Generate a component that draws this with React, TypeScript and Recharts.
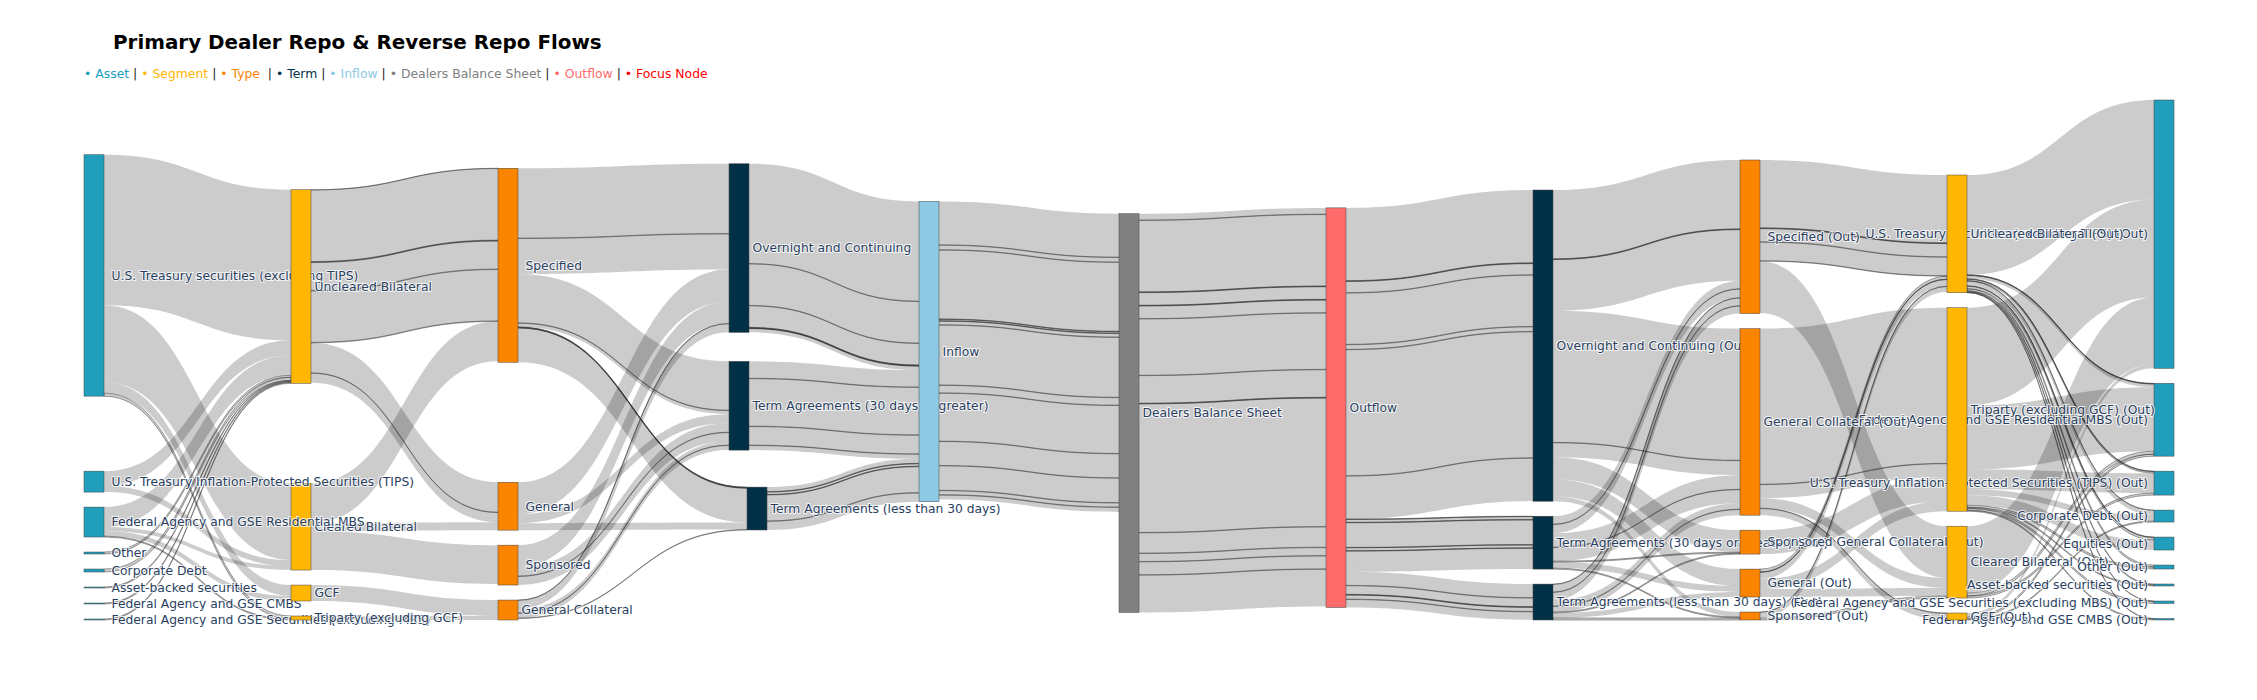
import { Layer, Sankey } from "recharts"

type Flow = [string, string, number]

const nodeNames = [
  "U.S. Treasury securities (excluding TIPS)",
  "Uncleared Bilateral",
  "Cleared Bilateral",
  "U.S. Treasury Inflation-Protected Securities (TIPS)",
  "Federal Agency and GSE Residential MBS",
  "Other",
  "Corporate Debt",
  "Asset-backed securities",
  "Federal Agency and GSE CMBS",
  "Federal Agency and GSE Securities (excluding MBS)",
  "GCF",
  "Triparty (excluding GCF)",
  "Specified",
  "General",
  "Sponsored",
  "General Collateral",
  "Overnight and Continuing",
  "Term Agreements (30 days or greater)",
  "Term Agreements (less than 30 days)",
  "Inflow",
  "Dealers Balance Sheet",
  "Outflow",
  "U.S. Treasury securities (excluding TIPS) (Out)",
  "Federal Agency and GSE Residential MBS (Out)",
  "U.S. Treasury Inflation-Protected Securities (TIPS) (Out)",
  "Overnight and Continuing (Out)",
  "Specified (Out)",
  "General Collateral (Out)",
  "Term Agreements (30 days or greater) (Out)",
  "Sponsored General Collateral (Out)",
  "Term Agreements (less than 30 days) (Out)",
  "General (Out)",
  "Sponsored (Out)",
  "Uncleared Bilateral (Out)",
  "Triparty (excluding GCF) (Out)",
  "Cleared Bilateral (Out)",
  "Corporate Debt (Out)",
  "Equities (Out)",
  "Other (Out)",
  "Asset-backed securities (Out)",
  "Federal Agency and GSE Securities (excluding MBS) (Out)",
  "Federal Agency and GSE CMBS (Out)",
  "GCF (Out)",
]

const T = nodeNames[0], TIPS = nodeNames[3], MBS = nodeNames[4]
const UB = "Uncleared Bilateral", CB = "Cleared Bilateral", GCF = "GCF", TRI = "Triparty (excluding GCF)"
const SPEC = "Specified", GEN = "General", SPON = "Sponsored", GC = "General Collateral"
const ON = "Overnight and Continuing", T30 = "Term Agreements (30 days or greater)", TL = "Term Agreements (less than 30 days)"
const INF = "Inflow", DBS = "Dealers Balance Sheet", OUT = "Outflow"
const ON2 = ON + " (Out)", T302 = T30 + " (Out)", TL2 = TL + " (Out)"
const SPEC2 = "Specified (Out)", GC2 = "General Collateral (Out)", SGC2 = "Sponsored General Collateral (Out)", GEN2 = "General (Out)", SPON2 = "Sponsored (Out)"
const UB2 = UB + " (Out)", TRI2 = TRI + " (Out)", CB2 = CB + " (Out)", GCF2 = "GCF (Out)"
const T2 = T + " (Out)", MBS2 = MBS + " (Out)", TIPS2 = TIPS + " (Out)"

const assetToSegment: Flow[] = [
  [T, UB, 151], [T, CB, 77], [T, GCF, 11], [T, TRI, 3],
  [TIPS, UB, 15], [TIPS, CB, 6],
  [MBS, UB, 20], [MBS, CB, 4], [MBS, GCF, 5], [MBS, TRI, 1],
  ["Other", UB, 2], ["Corporate Debt", UB, 3], ["Asset-backed securities", UB, 1],
  ["Federal Agency and GSE CMBS", UB, 1], ["Federal Agency and GSE Securities (excluding MBS)", UB, 1],
]

const segmentToType: Flow[] = [
  [UB, SPEC, 0.3], [UB, SPEC, 71.7], [UB, SPEC, 0.5], [UB, SPEC, 0.5], [UB, SPEC, 28], [UB, SPEC, 0.5], [UB, SPEC, 51.5], [UB, SPEC, 0.5],
  [UB, GEN, 30], [UB, GEN, 0.4], [UB, GEN, 9.6],
  [CB, SPEC, 40], [CB, GEN, 8], [CB, SPON, 39],
  [GCF, GC, 16], [TRI, GC, 4],
]

const typeToTerm: Flow[] = [
  [SPEC, ON, 70], [SPEC, ON, 0.4], [SPEC, ON, 35.6], [SPEC, T30, 49], [SPEC, T30, 0.4], [SPEC, T30, 3.6],
  [SPEC, TL, 0.4], [SPEC, TL, 0.4], [SPEC, TL, 0.4], [SPEC, TL, 34.3],
  [GEN, ON, 32], [GEN, T30, 9], [GEN, TL, 7],
  [SPON, ON, 22], [SPON, T30, 9], [SPON, T30, 0.4], [SPON, T30, 8.6],
  [GC, ON, 0.4], [GC, ON, 8.6], [GC, T30, 4], [GC, T30, 0.3], [GC, T30, 4.7], [GC, TL, 0.5],
]

const termToInflow: Flow[] = [
  [ON, INF, 100], [ON, INF, 0.4], [ON, INF, 41.6], [ON, INF, 0.4], [ON, INF, 21.6],
  [ON, INF, 0.4], [ON, INF, 0.4], [ON, INF, 0.4], [ON, INF, 3.8],
  [T30, INF, 17], [T30, INF, 0.4], [T30, INF, 47.6], [T30, INF, 0.4], [T30, INF, 18.6], [T30, INF, 0.4], [T30, INF, 4.6],
  [TL, INF, 4.5], [TL, INF, 0.4], [TL, INF, 2.6], [TL, INF, 0.4], [TL, INF, 26], [TL, INF, 0.4], [TL, INF, 8.7],
]

const inflowToDealers: Flow[] = [
  [INF, DBS, 43.5], [INF, DBS, 0.4], [INF, DBS, 4.5], [INF, DBS, 0.4], [INF, DBS, 69], [INF, DBS, 0.4],
  [INF, DBS, 1.5], [INF, DBS, 0.4], [INF, DBS, 3.5], [INF, DBS, 0.4], [INF, DBS, 60], [INF, DBS, 0.4],
  [INF, DBS, 7.5], [INF, DBS, 0.4], [INF, DBS, 48], [INF, DBS, 0.4], [INF, DBS, 24], [INF, DBS, 0.4],
  [INF, DBS, 24.5], [INF, DBS, 0.4], [INF, DBS, 4], [INF, DBS, 0.4], [INF, DBS, 4.5],
]

const dealersToOutflow: Flow[] = [
  [DBS, OUT, 6.3], [DBS, OUT, 0.4], [DBS, OUT, 71.6], [DBS, OUT, 0.4], [DBS, OUT, 0.4], [DBS, OUT, 12.6],
  [DBS, OUT, 0.4], [DBS, OUT, 0.4], [DBS, OUT, 12.6], [DBS, OUT, 0.4], [DBS, OUT, 56.4], [DBS, OUT, 0.4],
  [DBS, OUT, 27.6], [DBS, OUT, 0.4], [DBS, OUT, 0.4], [DBS, OUT, 128.8], [DBS, OUT, 0.4], [DBS, OUT, 20.3],
  [DBS, OUT, 0.4], [DBS, OUT, 8], [DBS, OUT, 0.4], [DBS, OUT, 12.9], [DBS, OUT, 0.4], [DBS, OUT, 37.4],
]

const outflowToTerm: Flow[] = [
  [OUT, ON2, 73], [OUT, ON2, 0.4], [OUT, ON2, 0.4], [OUT, ON2, 11.2], [OUT, ON2, 0.4], [OUT, ON2, 51.4], [OUT, ON2, 0.4],
  [OUT, ON2, 4.6], [OUT, ON2, 0.4], [OUT, ON2, 126.3], [OUT, ON2, 0.4], [OUT, ON2, 43],
  [OUT, T302, 0.4], [OUT, T302, 3], [OUT, T302, 0.4], [OUT, T302, 24.6], [OUT, T302, 0.4], [OUT, T302, 3], [OUT, T302, 0.4], [OUT, T302, 11.3], [OUT, T302, 9.4],
  [OUT, TL2, 13.6], [OUT, TL2, 0.4], [OUT, TL2, 8.6], [OUT, TL2, 0.4], [OUT, TL2, 0.4], [OUT, TL2, 4], [OUT, TL2, 0.4], [OUT, TL2, 8],
]

const termToType: Flow[] = [
  [ON2, SPEC2, 69], [ON2, SPEC2, 0.4], [ON2, SPEC2, 0.4], [ON2, SPEC2, 51.2], [ON2, GC2, 132], [ON2, GC2, 0.4], [ON2, GC2, 14.6],
  [ON2, SGC2, 22], [ON2, GEN2, 17], [ON2, SPON2, 5],
  [T302, SPEC2, 8], [T302, SPEC2, 0.4], [T302, SPEC2, 8.6], [T302, GC2, 14], [T302, GC2, 0.4], [T302, GC2, 13.6], [T302, SGC2, 1], [T302, GEN2, 6], [T302, SPON2, 1],
  [TL2, SPEC2, 0.4], [TL2, SPEC2, 7.6], [TL2, SPEC2, 0.4], [TL2, SPEC2, 7.6], [TL2, GC2, 6], [TL2, GC2, 0.4], [TL2, GC2, 5.6], [TL2, SGC2, 1], [TL2, GEN2, 5], [TL2, SPON2, 2],
]

const typeToSegment: Flow[] = [
  [SPEC2, UB2, 68], [SPEC2, UB2, 0.4], [SPEC2, UB2, 0.4], [SPEC2, UB2, 13.2], [SPEC2, UB2, 0.4], [SPEC2, UB2, 18.6], [SPEC2, UB2, 0.4], [SPEC2, CB2, 52],
  [GC2, TRI2, 156], [GC2, TRI2, 0.4], [GC2, TRI2, 13.6], [GC2, CB2, 10], [GC2, GCF2, 0.4], [GC2, GCF2, 6.6],
  [SGC2, TRI2, 24], [GEN2, UB2, 3], [GEN2, UB2, 0.4], [GEN2, UB2, 6.6], [GEN2, TRI2, 10], [GEN2, CB2, 8],
  [SPON2, UB2, 0.4], [SPON2, UB2, 5.6], [SPON2, CB2, 2],
]

const segmentToAsset: Flow[] = [
  [UB2, T2, 100], [UB2, MBS2, 0.4], [UB2, MBS2, 0.4], [UB2, MBS2, 3.2], [UB2, TIPS2, 0.4], [UB2, TIPS2, 1.6], [UB2, "Corporate Debt (Out)", 0.4], [UB2, "Corporate Debt (Out)", 4.6],
  [UB2, "Equities (Out)", 0.4], [UB2, "Equities (Out)", 2.6], [UB2, "Other (Out)", 2], [UB2, "Asset-backed securities (Out)", 1], [UB2, "Federal Agency and GSE Securities (excluding MBS) (Out)", 0.5], [UB2, "Federal Agency and GSE CMBS (Out)", 0.5],
  [TRI2, T2, 98], [TRI2, MBS2, 64], [TRI2, TIPS2, 20], [TRI2, "Corporate Debt (Out)", 6], [TRI2, "Equities (Out)", 10],
  [TRI2, "Other (Out)", 2], [TRI2, "Asset-backed securities (Out)", 1], [TRI2, "Federal Agency and GSE Securities (excluding MBS) (Out)", 2], [TRI2, "Federal Agency and GSE CMBS (Out)", 1],
  [CB2, T2, 67], [CB2, MBS2, 3], [CB2, TIPS2, 2],
  [GCF2, T2, 4], [GCF2, MBS2, 2], [GCF2, "Corporate Debt (Out)", 1],
]

const legendItems = [
  ["Asset", "#219ebc"],
  ["Segment", "#ffb703"],
  ["Type ", "#fb8500"],
  ["Term", "#023047"],
  ["Inflow", "#8ecae6"],
  ["Dealers Balance Sheet", "#808080"],
  ["Outflow", "#ff6b6b"],
  ["Focus Node", "#ff0000"],
]

const allFlows = [
  ...assetToSegment, ...segmentToType, ...typeToTerm, ...termToInflow, ...inflowToDealers,
  ...dealersToOutflow, ...outflowToTerm, ...termToType, ...typeToSegment, ...segmentToAsset,
]

const chartData = {
  nodes: nodeNames.map((name) => ({ name })),
  links: allFlows.map(([s, t, value]) => ({ source: nodeNames.indexOf(s), target: nodeNames.indexOf(t), value })),
}

const depthColors = ["#219ebc", "#ffb703", "#fb8500", "#023047", "#8ecae6", "#808080", "#ff6b6b", "#023047", "#fb8500", "#ffb703", "#219ebc"]

// the reference has some nodes dragged off the spot the layout gives them
const columnNudge: Record<number, number> = { 3: 24, 4: 7 }
const dragged: Record<string, number> = {
  [T]: -60,
  [UB]: -85,
  [SPEC]: -105,
  [ON]: -126,
  [T30]: -112,
  [TL]: -90,
  [INF]: -53,
  [DBS]: 17,
  [OUT]: 20,
}
const wideLabelGap = new Set([SPEC, GEN, SPON, SPEC2, GEN2, SPON2, SGC2])
const nudgeX = (node: any) => (node?.name === TL ? 42 : columnNudge[node?.depth] ?? 0)
const nudgeY = (node: any) => dragged[node?.name] ?? 0

function FlowLink(props: any) {
  const { sourceX, targetX, sourceY, targetY, sourceControlX, targetControlX, linkWidth, payload } = props
  const sx = sourceX + nudgeX(payload?.source)
  const tx = targetX + nudgeX(payload?.target)
  const mid = (nudgeX(payload?.source) + nudgeX(payload?.target)) / 2
  const cs = sourceControlX + mid
  const ct = targetControlX + mid
  const sy = sourceY + nudgeY(payload?.source)
  const ty = targetY + nudgeY(payload?.target)
  const h = linkWidth / 2
  const d = `M${sx},${sy - h}C${cs},${sy - h} ${ct},${ty - h} ${tx},${ty - h}L${tx},${ty + h}C${ct},${ty + h} ${cs},${sy + h} ${sx},${sy + h}Z`
  const thin = payload?.value <= 3
  return <path d={d} fill="rgba(0,0,0,0.2)" stroke={thin ? "rgba(50,50,50,0.75)" : "none"} strokeWidth={thin ? 0.6 : 0} />
}

function FlowNode(props: any) {
  const { x, y, width, height, payload } = props
  const px = x + nudgeX(payload)
  const py = y + nudgeY(payload)
  const last = payload.depth === 10
  const gap = payload.depth === 0 || wideLabelGap.has(payload.name) ? 7.5 : 3.5
  return (
    <Layer>
      <rect x={px} y={py} width={width} height={height} fill={depthColors[payload.depth]} stroke="#444" strokeWidth={0.5} />
      <text
        x={last ? px - 6 : px + width + gap}
        y={py + height / 2}
        dy="0.35em"
        textAnchor={last ? "end" : "start"}
        fontFamily="'DejaVu Sans', sans-serif"
        fontSize={12.3}
        fill="#2a3f5f"
        stroke="#fff"
        strokeWidth={2}
        strokeOpacity={0.8}
        style={{ paintOrder: "stroke" }}
      >
        {payload.name}
      </text>
    </Layer>
  )
}

export default function App() {
  return (
    <div style={{ position: "absolute", left: 0, top: 0, width: 2257, height: 700, background: "#fff", fontFamily: "'DejaVu Sans', sans-serif" }}>
      <div style={{ position: "absolute", left: 113, top: 31, fontSize: 19.9, fontWeight: 700, color: "#000", whiteSpace: "nowrap" }}>
        Primary Dealer Repo &amp; Reverse Repo Flows
      </div>
      <div style={{ position: "absolute", left: 84, top: 66, fontSize: 12.4, whiteSpace: "pre", color: "#222" }}>
        {legendItems.map(([label, color], i) => (
          <span key={label}>
            {i > 0 ? " | " : ""}
            <span style={{ color }}>{"\u2022 " + label}</span>
          </span>
        ))}
      </div>
      <Sankey
        width={2257}
        height={700}
        data={chartData}
        margin={{ top: 100, left: 84, right: 83, bottom: 80 }}
        nodeWidth={20}
        nodePadding={15}
        iterations={32}
        linkCurvature={0.5}
        sort={false}
        node={<FlowNode />}
        link={<FlowLink />}
      />
    </div>
  )
}
